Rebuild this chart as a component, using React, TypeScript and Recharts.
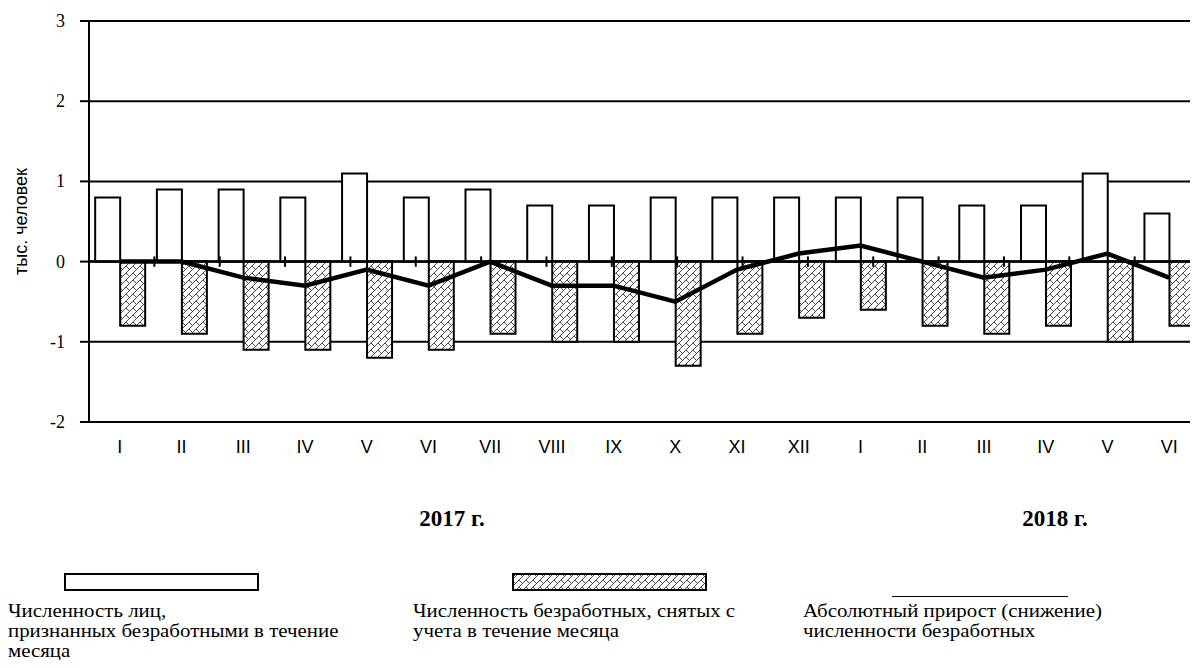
import React from 'react';
import {
  ComposedChart,
  Bar,
  Line,
  XAxis,
  YAxis,
  CartesianGrid,
  ReferenceLine,
} from 'recharts';

// months, Jan 2017 .. Jun 2018
const months = ['I', 'II', 'III', 'IV', 'V', 'VI', 'VII', 'VIII', 'IX', 'X', 'XI', 'XII', 'I', 'II', 'III', 'IV', 'V', 'VI'];
// признанных безработными, тыс. человек
const recognized = [0.8, 0.9, 0.9, 0.8, 1.1, 0.8, 0.9, 0.7, 0.7, 0.8, 0.8, 0.8, 0.8, 0.8, 0.7, 0.7, 1.1, 0.6];
const removed = [-0.8, -0.9, -1.1, -1.1, -1.2, -1.1, -0.9, -1.0, -1.0, -1.3, -0.9, -0.7, -0.6, -0.8, -0.9, -0.8, -1.0, -0.8];
// абсолютный прирост (снижение)
const change = [0, 0, -0.2, -0.3, -0.1, -0.3, 0, -0.3, -0.3, -0.5, -0.1, 0.1, 0.2, 0, -0.2, -0.1, 0.1, -0.2];
const yTicks = [-2, -1, 0, 1, 2, 3];

const chartData = months.map((m, i) => ({
  key: i,
  month: m,
  recognized: recognized[i],
  removed: removed[i],
  change: change[i],
}));

// small tick marks on the zero line, between months
const boundaries = months.slice(1).map((_, i) => i + 1);

const serif = '"Liberation Serif", "Times New Roman", serif';
const sans = '"Liberation Sans", Arial, sans-serif';

const HatchDefs = ({ id }: { id: string }) => (
  <defs>
    <pattern id={id} patternUnits="userSpaceOnUse" width="7" height="7">
      <rect width="7" height="7" fill="#fff" />
      <path d="M0,7 L7,0" stroke="#333" strokeWidth={0.9} />
      <path d="M0,0 L3.5,3.5" stroke="#333" strokeWidth={0.9} />
    </pattern>
  </defs>
);

const MonthTick = (props: { x?: number; y?: number; payload?: { index: number } }) => {
  const { x = 0, y = 0, payload } = props;
  const label = months[payload?.index ?? 0];
  return (
    <text x={x} y={y} dy={18.5} textAnchor="middle" fontFamily={sans} fontSize={18} fill="#000">
      {label}
    </text>
  );
};

const ValueTick = (props: { x?: number; y?: number; payload?: { value: number } }) => {
  const { x = 0, y = 0, payload } = props;
  return (
    <text x={x} y={y} dy={6} textAnchor="end" fontFamily={serif} fontSize={18} fill="#000">
      {payload?.value}
    </text>
  );
};

const AxisTitle = (props: { viewBox?: { x: number; y: number; width: number; height: number } }) => {
  const vb = props.viewBox || { x: 0, y: 0, width: 0, height: 0 };
  const cx = 21;
  const cy = vb.y + vb.height / 2;
  return (
    <text
      x={cx}
      y={cy}
      transform={`rotate(-90, ${cx}, ${cy})`}
      textAnchor="middle"
      dominantBaseline="central"
      fontFamily={sans}
      fontSize={18}
      fill="#000"
    >
      тыс. человек
    </text>
  );
};

// legend text in the source is a bit wider than it is tall
const legendText = {
  position: 'absolute' as const,
  top: 601,
  fontFamily: serif,
  fontSize: 18,
  lineHeight: '20px',
  color: '#000',
  whiteSpace: 'nowrap' as const,
  transform: 'scaleX(1.16)',
  transformOrigin: '0 0',
};

const yearText = {
  position: 'absolute' as const,
  top: 505,
  width: 120,
  textAlign: 'center' as const,
  fontFamily: serif,
  fontWeight: 'bold' as const,
  fontSize: 23,
  lineHeight: '28px',
  color: '#000',
};

export default function App() {
  return (
    <div
      style={{
        position: 'relative',
        width: 1198,
        height: 668,
        margin: -8,
        overflow: 'hidden',
        background: '#fff',
      }}
    >
      <ComposedChart
        width={1200}
        height={470}
        data={chartData}
        margin={{ top: 21, right: 0, left: 0, bottom: 8 }}
        barCategoryGap="10%"
        barGap={0}
      >
        <HatchDefs id="hatch" />
        <CartesianGrid vertical={false} stroke="#000" strokeWidth={2} />
        <XAxis
          dataKey="key"
          height={40}
          axisLine={false}
          tickLine={false}
          tickMargin={6}
          interval={0}
          tick={<MonthTick />}
        />
        <XAxis xAxisId="b" type="number" domain={[0, 18]} hide allowDataOverflow />
        <YAxis
          width={89}
          domain={[-2, 3]}
          ticks={yTicks}
          interval={0}
          axisLine={{ stroke: '#000', strokeWidth: 2 }}
          tickLine={{ stroke: '#000', strokeWidth: 2 }}
          tickSize={9}
          tickMargin={15}
          tick={<ValueTick />}
          label={<AxisTitle />}
        />
        <ReferenceLine y={0} stroke="#000" strokeWidth={2.5} />
        <Bar dataKey="recognized" fill="#fff" stroke="#000" strokeWidth={2} isAnimationActive={false} />
        <Bar dataKey="removed" fill="url(#hatch)" stroke="#000" strokeWidth={2} isAnimationActive={false} />
        {boundaries.map((b) => (
          <ReferenceLine
            key={b}
            xAxisId="b"
            segment={[
              { x: b, y: 0.065 },
              { x: b, y: -0.065 },
            ]}
            stroke="#000"
            strokeWidth={2}
          />
        ))}
        <Line
          type="linear"
          dataKey="change"
          stroke="#000"
          strokeWidth={4.5}
          dot={false}
          activeDot={false}
          isAnimationActive={false}
        />
      </ComposedChart>

      <div style={{ ...yearText, left: 452 - 60 }}>2017 г.</div>
      <div style={{ ...yearText, left: 1055 - 60 }}>2018 г.</div>

      <div style={{ position: 'absolute', left: 64, top: 573, width: 191, height: 14, border: '2px solid #000', background: '#fff' }} />
      <svg style={{ position: 'absolute', left: 512, top: 573 }} width={196} height={19}>
        <HatchDefs id="hatch-legend" />
        <rect x={1} y={1} width={193} height={16} fill="url(#hatch-legend)" stroke="#000" strokeWidth={2} />
      </svg>
      <div style={{ position: 'absolute', left: 892, top: 596, width: 176, height: 1, background: '#000' }} />

      <div style={{ ...legendText, left: 8 }}>
        Численность лиц,
        <br />
        признанных безработными в течение
        <br />
        месяца
      </div>
      <div style={{ ...legendText, left: 413 }}>
        Численность безработных, снятых с
        <br />
        учета в течение месяца
      </div>
      <div style={{ ...legendText, left: 803 }}>
        Абсолютный прирост (снижение)
        <br />
        численности безработных
      </div>
    </div>
  );
}
